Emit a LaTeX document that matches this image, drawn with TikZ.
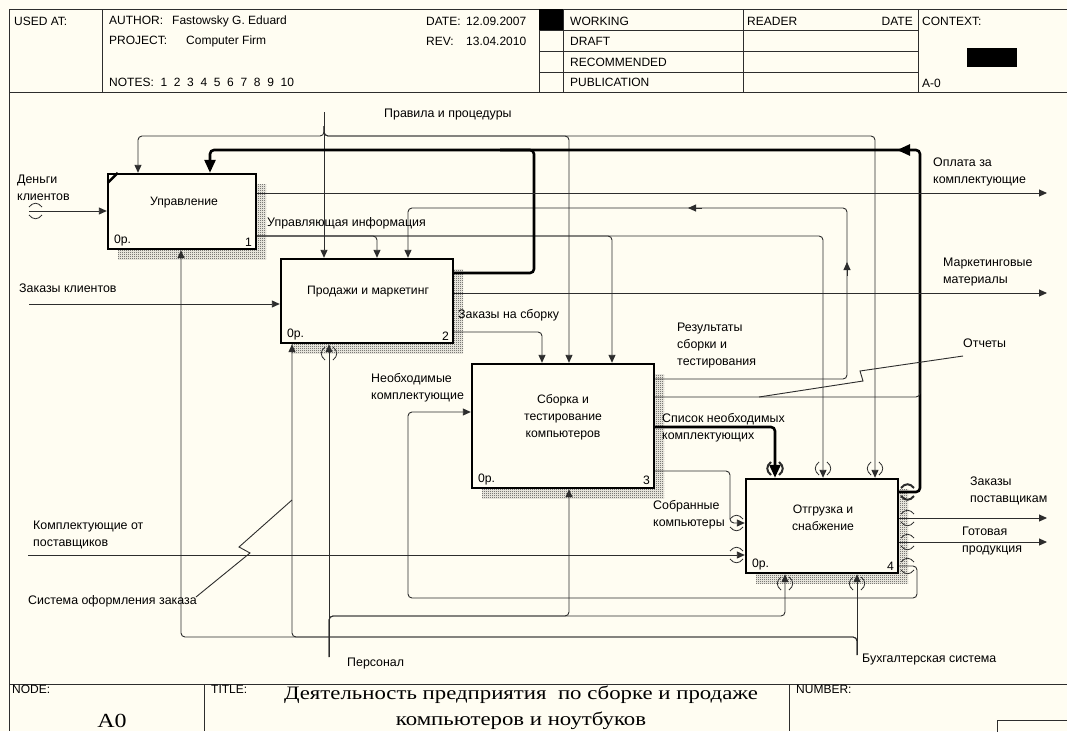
\documentclass[tikz,border=0pt]{standalone}
\usepackage{fontspec}
\setmainfont{Liberation Sans}
\newfontfamily\titlefont[FakeStretch=1.2]{Liberation Serif}
\usetikzlibrary{arrows.meta, patterns, positioning, calc}
\definecolor{paper}{RGB}{255,253,242}
\definecolor{ink}{RGB}{45,45,45}

\pgfdeclarepatternformonly{finechecks}{\pgfpointorigin}{\pgfpoint{2pt}{2pt}}{\pgfpoint{2pt}{2pt}}
  {\pgfpathrectangle{\pgfpointorigin}{\pgfpoint{1pt}{1pt}}
   \pgfpathrectangle{\pgfpoint{1pt}{1pt}}{\pgfpoint{1pt}{1pt}}\pgfusepath{fill}}

\tikzset{
  box/.style={draw=black, line width=2.4pt, fill=paper, inner sep=0pt,
    preaction={pattern=finechecks, pattern color=black!80,
      transform canvas={shift={(10pt,-10pt)}}}},
  wire/.style={draw=ink, line width=0.9pt, rounded corners=4pt},
  heavy/.style={wire, line width=2.6pt, draw=black},
  tip/.style={-{Triangle[length=8pt,width=7pt]}},
  bigtip/.style={-{Triangle[length=13pt,width=11pt]}},
  frame/.style={draw=ink, line width=0.9pt},
  lbl/.style={font=\fontsize{12.4}{17}\selectfont, inner sep=0pt, anchor=west, align=left},
  boxtext/.style={font=\fontsize{12.2}{17}\selectfont, inner sep=0pt, align=center},
  hdr/.style={font=\fontsize{12}{14}\selectfont, inner sep=0pt, anchor=west},
}

% tunnel marks: x, y at the box edge, side (-1 or 1)
\newcommand\tunv[4][]{\draw[ink, line width=0.8pt, #1]
  ({#2-4},{#3+(#4)*2}) .. controls ({#2-9},{#3+(#4)*6}) and ({#2-9},{#3+(#4)*11}) .. ({#2-4},{#3+(#4)*15})
  ({#2+4},{#3+(#4)*2}) .. controls ({#2+9},{#3+(#4)*6}) and ({#2+9},{#3+(#4)*11}) .. ({#2+4},{#3+(#4)*15});}
\newcommand\tunh[4][]{\draw[ink, line width=0.8pt, #1]
  ({#2+(#4)*2},{#3-4}) .. controls ({#2+(#4)*6},{#3-9}) and ({#2+(#4)*11},{#3-9}) .. ({#2+(#4)*15},{#3-4})
  ({#2+(#4)*2},{#3+4}) .. controls ({#2+(#4)*6},{#3+9}) and ({#2+(#4)*11},{#3+9}) .. ({#2+(#4)*15},{#3+4});}

\begin{document}
\begin{tikzpicture}[x=1pt, y=-1pt]
\useasboundingbox (0,0) rectangle (1067,731);
\fill[paper] (0,0) rectangle (1067,731);

% header
\draw[frame] (9,9) -- (1067,9) (9,92) -- (1067,92) (9,9) -- (9,731);
\draw[frame] (102,9) -- (102,92) (539,9) -- (539,92) (563,9) -- (563,92)
  (743,9) -- (743,92) (918,9) -- (918,92);
\draw[frame] (539,30) -- (918,30) (539,51) -- (918,51) (539,72) -- (918,72);
\fill (539,9) rectangle (563,30);
\fill (967,48) rectangle (1017,67);
\node[hdr] (usedat) at (14,21) {USED AT:};
\node[hdr] (author) at (109,21) {\makebox[63pt][l]{AUTHOR:}Fastowsky G. Eduard};
\node[hdr] (project) at (109,41) {\makebox[77pt][l]{PROJECT:}Computer Firm};
\node[hdr] (notes) at (109,82) {NOTES:\ \ 1\ \ 2\ \ 3\ \ 4\ \ 5\ \ 6\ \ 7\ \ 8\ \ 9\ \ 10};
\node[hdr] (date) at (426,21) {\makebox[40pt][l]{DATE:}12.09.2007};
\node[hdr] (rev) at (426,41) {\makebox[40pt][l]{REV:}13.04.2010};
\node[hdr] (working) at (570,21) {WORKING};
\node[hdr] (draft) at (570,41) {DRAFT};
\node[hdr] (recom) at (570,62) {RECOMMENDED};
\node[hdr] (publ) at (570,82) {PUBLICATION};
\node[hdr] (reader) at (747,21) {READER};
\node[hdr, anchor=east] (rdate) at (913,21) {DATE};
\node[hdr] (context) at (922,21) {CONTEXT:};
\node[hdr] (ctxnode) at (922,83) {A-0};

% footer
\draw[frame] (9,684) -- (1067,684) (204,684) -- (204,731) (789,684) -- (789,731);
\draw[frame] (997,720) rectangle (1070,740);
\node[hdr] (nodehd) at (12,689) {NODE:};
\node[hdr] (titlehd) at (211,689) {TITLE:};
\node[hdr] (numberhd) at (796,689) {NUMBER:};
\node[font=\titlefont\fontsize{20}{24}\selectfont, inner sep=0pt] (nodeno) at (112,721) {A0};
\node[font=\titlefont\fontsize{19}{26}\selectfont, inner sep=0pt, align=center] (title) at (521,708)
  {Деятельность предприятия\ \ по сборке и продаже\\компьютеров и ноутбуков};

% activity boxes
\node[box, minimum width=148, minimum height=75] (b1) at (182,211.5) {};
\node[box, minimum width=172, minimum height=84] (b2) at (367,301) {};
\node[box, minimum width=182, minimum height=124] (b3) at (563,426) {};
\node[box, minimum width=152, minimum height=94] (b4) at (822,526) {};
\draw[black, line width=2.4pt] ($(b1.north west)+(1,10)$) -- ($(b1.north west)+(11,0)$);
\node[boxtext] (t1) at (184,203) {Управление};
\node[boxtext] (t2) at (368,292) {Продажи и маркетинг};
\node[boxtext] (t3) at (563,417) {Сборка и\\тестирование\\компьютеров};
\node[boxtext] (t4) at (823,517.5) {Отгрузка и\\снабжение};
\foreach \b/\n in {b1/1, b2/2, b3/3, b4/4} {
  \node[boxtext, anchor=south west] at ($(\b.south west)+(7,-4)$) {0р.};
  \node[boxtext, anchor=south east] at ($(\b.south east)+(-5,-4)$) {\n};
}

% free ends
\coordinate (moneyin) at (29,211);
\coordinate (ordin) at (29,304);
\coordinate (partsin) at (28,555);
\coordinate (rules) at (324,112);
\coordinate (staff) at (329,657);
\coordinate (acct) at (857,655);
\coordinate (payout) at (1047,193);
\coordinate (mktout) at (1047,293);
\coordinate (supout) at (1047,518);
\coordinate (prodout) at (1047,542);

% inputs
\draw[wire, tip] (moneyin) -- (b1.west |- moneyin);
\draw[wire, tip] (ordin) -- (b2.west |- ordin);
\draw[wire, tip] (partsin) -- (b4.west |- partsin);

% controls
\draw[wire, tip] (rules) -- (rules |- b2.north);
\draw[wire, tip] (324,126) |- (138,136) -- (138,0 |- b1.north);
\draw[wire, tip] (324,126) |- (569,136) -- (569,0 |- b3.north);
\draw[wire, tip] (324,126) |- (875,136) -- (875,0 |- b4.north);
\draw[wire, tip] (b1.east |- 0,236) -| (823,0 |- b4.north);
\draw[wire, tip] (b1.east |- 0,236) -| (377,0 |- b2.north);
\draw[wire, tip] (b1.east |- 0,236) -| (612,0 |- b3.north);
\draw[wire, tip] (b2.east |- 0,332) -| (542,0 |- b3.north);
\draw[wire, tip] (b3.east |- 0,379) -| (847,208) -| (408,0 |- b2.north);
\draw[wire, tip] (847,276) -- (847,262);
\draw[wire, tip] (702,208) -- (688,208);

% heavy feedback
\draw[heavy, bigtip] (b4.east |- 0,492) -| (920,150) -| (210,0 |- b1.north);
\draw[heavy] (b2.east |- 0,273) -| (534,150) -- (500,150);
\draw[heavy, bigtip] (914,150) -- (897,150);
\draw[wire] (b3.east |- 0,397) -| (920,380);
\draw[heavy, bigtip] (b3.east |- 0,427) -| (775,0 |- b4.north);

% outputs
\draw[wire, tip] (b1.east |- payout) -- (payout);
\draw[wire, tip] (b2.east |- mktout) -- (mktout);
\draw[wire, tip] (b4.east |- supout) -- (supout);
\draw[wire, tip] (b4.east |- prodout) -- (prodout);
\draw[wire, tip] (b3.east |- 0,471) -| (730,523) -- (b4.west |- 0,523);
\draw[wire, tip] (b4.east |- 0,566) -| (917,598) -| (408,412) -- (b3.west |- 0,412);

% mechanisms
\draw[wire, tip] (staff) -- (staff |- b2.south);
\draw[wire, tip] (staff) |- (569,616) -- (569,0 |- b3.south);
\draw[wire, tip] (staff) |- (785,616) -- (785,0 |- b4.south);
\draw[wire, tip] (acct) -- (acct |- b4.south);
\draw[wire, tip] (acct) |- (181,637) -- (181,0 |- b1.south);
\draw[wire, tip] (acct) |- (292,637) -- (292,0 |- b2.south);

% tunnels
\tunh{27}{211}{1}
\tunv{329}{345}{1}
\tunv[line width=2pt]{775}{477}{-1}
\tunv{823}{477}{-1}
\tunv{875}{477}{-1}
\tunv{785}{575}{1}
\tunv{857}{575}{1}
\tunh{745}{523}{-1}
\tunh{745}{555}{-1}
\tunh[line width=2pt]{899}{492}{1}
\tunh{899}{518}{1}
\tunh{899}{542}{1}
\tunh{899}{566}{1}

% squiggle leaders
\draw[wire, rounded corners=0] (963,356) -- (860,371) -- (863,381) -- (759,397);
\draw[wire, rounded corners=0] (196,597) -- (250,553) -- (239,547) -- (292,500);

% arrow labels
\node[lbl] (money) at (17,187.5) {Деньги\\клиентов};
\node[lbl] (orders) at (19,288) {Заказы клиентов};
\node[lbl] (parts) at (33,534.5) {Комплектующие от\\поставщиков};
\node[lbl] (ordsys) at (28,601) {Система оформления заказа};
\node[lbl] (staffl) at (347,664) {Персонал};
\node[lbl] (acctl) at (862,660) {Бухгалтерская система};
\node[lbl] (rulesl) at (384,115) {Правила и процедуры};
\node[lbl] (mgmt) at (267,223) {Управляющая информация};
\node[lbl] (asmord) at (458,315) {Заказы на сборку};
\node[lbl] (needed) at (371,388) {Необходимые\\комплектующие};
\node[lbl] (results) at (677,346) {Результаты\\сборки и\\тестирования};
\node[lbl] (reports) at (963,343) {Отчеты};
\node[lbl] (partlist) at (662,428) {Список необходимых\\комплектующих};
\node[lbl] (built) at (653,514.5) {Собранные\\компьютеры};
\node[lbl] (pay) at (933,171.5) {Оплата за\\комплектующие};
\node[lbl] (mkt) at (943,272) {Маркетинговые\\материалы};
\node[lbl] (supord) at (970,490.5) {Заказы\\поставщикам};
\node[lbl] (goods) at (962,541.5) {Готовая\\продукция};
\end{tikzpicture}
\end{document}
